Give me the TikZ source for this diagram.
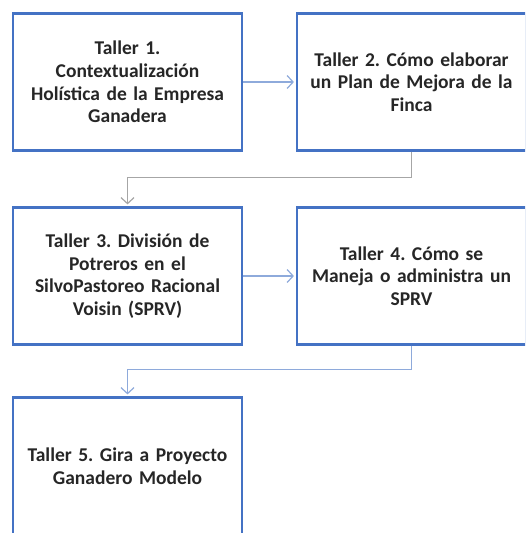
\documentclass[tikz,border=0pt]{standalone}
\usepackage{fontspec}
\setmainfont{Carlito}
\usepackage{tikz}
\usetikzlibrary{arrows.meta, positioning, calc}
\usepackage{xcolor}
\definecolor{boxblue}{HTML}{4472C4}
\definecolor{linkblue}{HTML}{8EAADB}
\definecolor{linkgray}{HTML}{A6A6A6}
\definecolor{txtgray}{HTML}{262626}
\frenchspacing

\tikzset{
  taller/.style={draw=boxblue, line width=2.2pt, fill=white,
    minimum width=229pt, minimum height=137pt, align=center,
    inner sep=0pt, text width=224pt, text=txtgray,
    font=\fontsize{19.5pt}{22.6pt}\selectfont\bfseries},
  link/.style={draw=linkblue, line width=1.2pt,
    -{Straight Barb[length=6pt,width=13pt,line width=1.2pt]}, shorten >=2pt},
}

\begin{document}
\begin{tikzpicture}[x=1pt,y=-1pt]
        \useasboundingbox (0,0) rectangle (525,533);
        \clip (0,0) rectangle (525,533);

        % Boxes
        \node[taller] (t1) at (127.5,82) {Taller 1.\\Contextualización\\Holística de la Empresa\\Ganadera};
        \node[taller] (t2) at (411.5,82) {Taller 2. Cómo elaborar\\un Plan de Mejora de la\\Finca};
        \node[taller] (t3) at (127.5,276) {Taller 3. División de\\Potreros en el\\SilvoPastoreo Racional\\Voisin (SPRV)};
        \node[taller] (t4) at (411.5,276) {Taller 4. Cómo se\\Maneja o administra un\\SPRV};
        \node[taller] (t5) at (127.5,466) {Taller 5. Gira a Proyecto\\Ganadero Modelo};

        % Links
        \draw[link] (t1.east) -- (t2.west);
        \draw[link, draw=linkgray] (t2.south) -- ++(0,26) -| (t3.north);
        \draw[link] (t3.east) -- (t4.west);
        \draw[link] (t4.south) -- ++(0,24) -| (t5.north);
    \end{tikzpicture}
\end{document}
